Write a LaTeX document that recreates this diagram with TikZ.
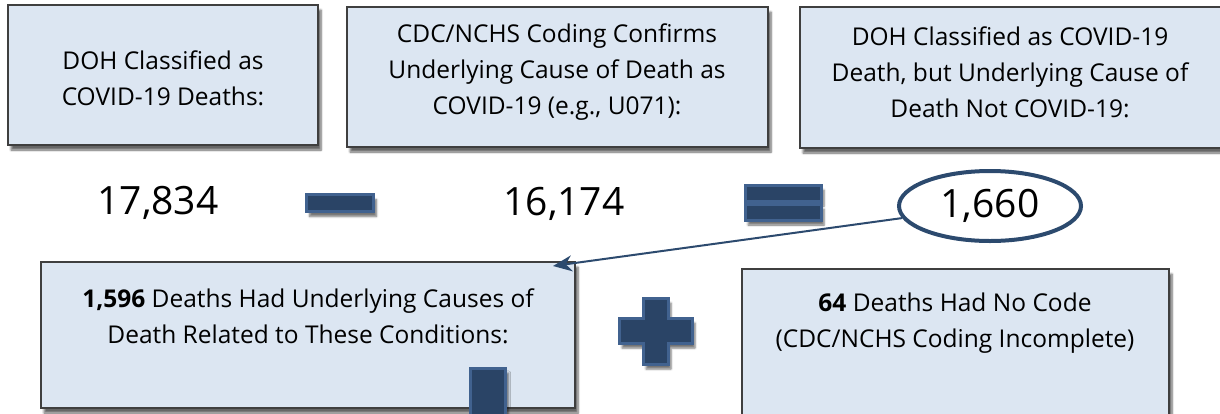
\documentclass[tikz,border=0pt]{standalone}
\usepackage{fontspec}
\setmainfont{Open Sans}
\usetikzlibrary{shapes.geometric,shadows.blur,arrows.meta}

\definecolor{boxfill}{HTML}{DCE6F2}
\definecolor{boxline}{HTML}{3F3F3F}
\definecolor{opdark}{HTML}{2A4466}
\definecolor{oplight}{HTML}{41628F}
\definecolor{ringblue}{HTML}{2C4A6E}

\tikzset{
  infobox/.style={rectangle,draw=boxline,fill=boxfill,line width=1.1pt,inner sep=0pt,
    blur shadow={shadow xshift=3pt,shadow yshift=-5pt,shadow blur steps=6,shadow opacity=60}},
  boxtext/.style={align=center,inner sep=0pt,font=\fontsize{24.5}{36}\selectfont},
  bignum/.style={inner sep=0pt,font=\fontsize{39}{44}\selectfont},
  opbar/.style={rectangle,fill=opdark,draw=oplight,line width=3pt,inner sep=0pt,
    blur shadow={shadow xshift=3pt,shadow yshift=-5pt,shadow blur steps=5,shadow opacity=55}}
}

\begin{document}
\begin{tikzpicture}[x=1pt,y=-1pt]
\clip (0,0) rectangle (1220,413);

% top row of boxes
\node[infobox,minimum width=310,minimum height=140] (doh) at (163,75) {};
\node[infobox,minimum width=421,minimum height=140] (cdc) at (557.5,77) {};
\node[infobox,minimum width=430,minimum height=141] (notcov) at (1015,77.5) {};
\node[boxtext] (dohtxt) at (163,78) {DOH Classified as\\COVID-19 Deaths:};
\node[boxtext] (cdctxt) at (557,72) {CDC/NCHS Coding Confirms\\Underlying Cause of Death as\\COVID-19 (e.g., U071):};
\node[boxtext] (notcovtxt) at (1010,72) {DOH Classified as COVID-19\\Death, but Underlying Cause of\\Death Not COVID-19:};

% the equation
\node[bignum] (total) at (158,203) {17,834};
\node[opbar,minimum width=67,minimum height=17] (minus) at (340,203) {};
\node[bignum] (confirmed) at (564,204) {16,174};
\node[opbar,minimum width=76,minimum height=16] (eqtop) at (783,193) {};
\node[opbar,minimum width=76,minimum height=16] (eqbot) at (783,212) {};
\node[ellipse,draw=ringblue,line width=4pt,minimum width=182,minimum height=70,
  inner sep=0pt,font=\fontsize{39}{44}\selectfont] (diff) at (990,206) {1,660};

% bottom row
\node[infobox,minimum width=534,minimum height=146] (related) at (308,335) {};
\node[boxtext] (relatedtxt) at (308,316) {\textbf{1,596} Deaths Had Underlying Causes of\\Death Related to These Conditions:};
\node[infobox,minimum width=427,minimum height=160] (nocode) at (955.5,349) {};
\node[boxtext] (nocodetxt) at (955,323) {\textbf{64} Deaths Had No Code\\(CDC/NCHS Coding Incomplete)};

% plus sign
\filldraw[fill=opdark,draw=oplight,line width=3pt,
  blur shadow={shadow xshift=3pt,shadow yshift=-5pt,shadow blur steps=5,shadow opacity=55}]
  (643,298) -- (668,298) -- (668,318) -- (692,318) -- (692,343) -- (668,343)
  -- (668,364) -- (643,364) -- (643,343) -- (619,343) -- (619,318) -- (643,318) -- cycle;

% bar going down
\node[opbar,minimum width=35,minimum height=60] (down) at (488,398) {};

% arrow from the difference to the box
\coordinate (tip) at (553,266);
\draw[ringblue,line width=2pt,-{Stealth[length=19pt,width=16pt]}] (diff) -- (tip);
\end{tikzpicture}
\end{document}
